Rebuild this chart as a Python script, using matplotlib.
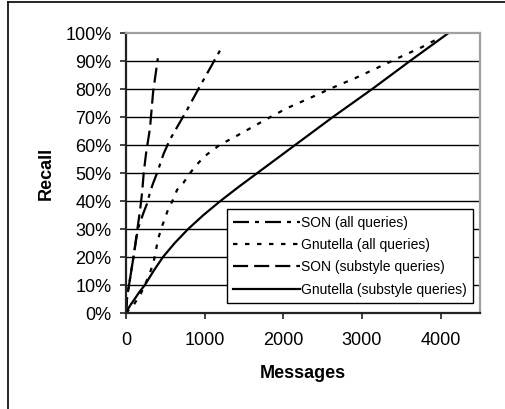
import matplotlib
matplotlib.use("Agg")
import matplotlib.pyplot as plt
from matplotlib.lines import Line2D
from matplotlib.ticker import FuncFormatter

plt.rcParams['font.family'] = ['Liberation Sans', 'DejaVu Sans']

# messages sent vs. recall (%)
son_all_msgs = [0, 15, 50, 95, 150, 225, 267, 305, 340, 395, 480, 560, 775, 940, 1070, 1220]
son_all_recall = [0, 6, 12, 20, 30, 36, 39, 43, 46, 50, 57, 62, 72.5, 81, 87.5, 95]

gnu_all_msgs = [0, 100, 190, 240, 300, 350, 405, 445, 485, 535, 590, 650, 730, 815, 900,
                1000, 1190, 1390, 1790, 2050, 2340, 2620, 2915, 3190, 3485, 3765, 4000]
gnu_all_recall = [0, 3, 7, 10, 14, 18, 26, 30, 33, 37, 40, 44, 46.5, 50, 53,
                  56, 60, 63, 69.3, 73.2, 76.8, 80.4, 83.9, 87.5, 91.4, 95, 98.5]

son_sub_msgs = [0, 15, 50, 95, 140, 180, 205, 225, 255, 305, 345, 405]
son_sub_recall = [0, 6, 12, 20, 29, 37, 43, 50, 57, 66, 79, 91]

gnu_sub_msgs = [0, 50, 110, 170, 240, 350, 470, 620, 790, 985, 1200, 1430,
                1670, 2150, 2630, 3130, 3610, 4100]
gnu_sub_recall = [0, 2.6, 5, 7.5, 10, 15, 20, 25, 30, 35, 40, 45,
                  50, 60, 70, 80, 90, 100]

fig = plt.figure(figsize=(5.06, 4.09), dpi=100)
ax = fig.add_axes([0.249, 0.2347, 0.6996, 0.6846])

lw = 1.6
ax.plot(son_all_msgs, son_all_recall, color='black', lw=lw,
        dashes=(7.2, 2.7, 1.8, 2.7), label='SON (all queries)')
ax.plot(gnu_all_msgs, gnu_all_recall, color='black', lw=lw,
        dashes=(2.0, 3.4), label='Gnutella (all queries)')
ax.plot(son_sub_msgs, son_sub_recall, color='black', lw=lw,
        dashes=(6.8, 2.7), label='SON (substyle queries)')
ax.plot(gnu_sub_msgs, gnu_sub_recall, color='black', lw=lw,
        label='Gnutella (substyle queries)')

ax.set_xlim(0, 4500)
ax.set_ylim(0, 100)
ax.set_xticks([0, 1000, 2000, 3000, 4000])
ax.set_yticks(range(0, 101, 10))
ax.yaxis.set_major_formatter(FuncFormatter(lambda v, p: f"{v:.0f}%"))

# horizontal gridlines only
for y in range(10, 100, 10):
    ax.axhline(y, color='black', lw=1.0, zorder=0.5)

for side in ['top', 'right']:
    ax.spines[side].set_color('#a0a0a0')
    ax.spines[side].set_linewidth(1.6)
for side in ['left', 'bottom']:
    ax.spines[side].set_color('#222222')
    ax.spines[side].set_linewidth(1.6)

ax.tick_params(axis='both', direction='out', length=4.5, width=1.2,
               labelsize=13, color='#222222')
ax.tick_params(axis='y', pad=6)
ax.tick_params(axis='x', pad=9)

ax.set_xlabel('Messages', fontsize=13, fontweight='bold')
ax.set_ylabel('Recall', fontsize=13, fontweight='bold')
ax.xaxis.set_label_coords(0.5, -0.185)
ax.yaxis.set_label_coords(-0.2, 0.5)

leg = ax.legend(loc='lower right', bbox_to_anchor=(0.98, 0.036), borderaxespad=0,
                fontsize=10, frameon=True, fancybox=False, framealpha=1,
                handlelength=4.8, handletextpad=0.1, labelspacing=0.6,
                borderpad=0.45)
leg.get_frame().set_edgecolor('black')
leg.get_frame().set_linewidth(1.0)

# outer frame edges (top and left)
fig.add_artist(Line2D([8 / 506, 1], [1 - 1.5 / 409, 1 - 1.5 / 409],
                      transform=fig.transFigure, color='black', lw=1.2))
fig.add_artist(Line2D([8 / 506, 8 / 506], [0, 1 - 1.5 / 409],
                      transform=fig.transFigure, color='black', lw=1.2))

fig.savefig('out.png', dpi=100)
